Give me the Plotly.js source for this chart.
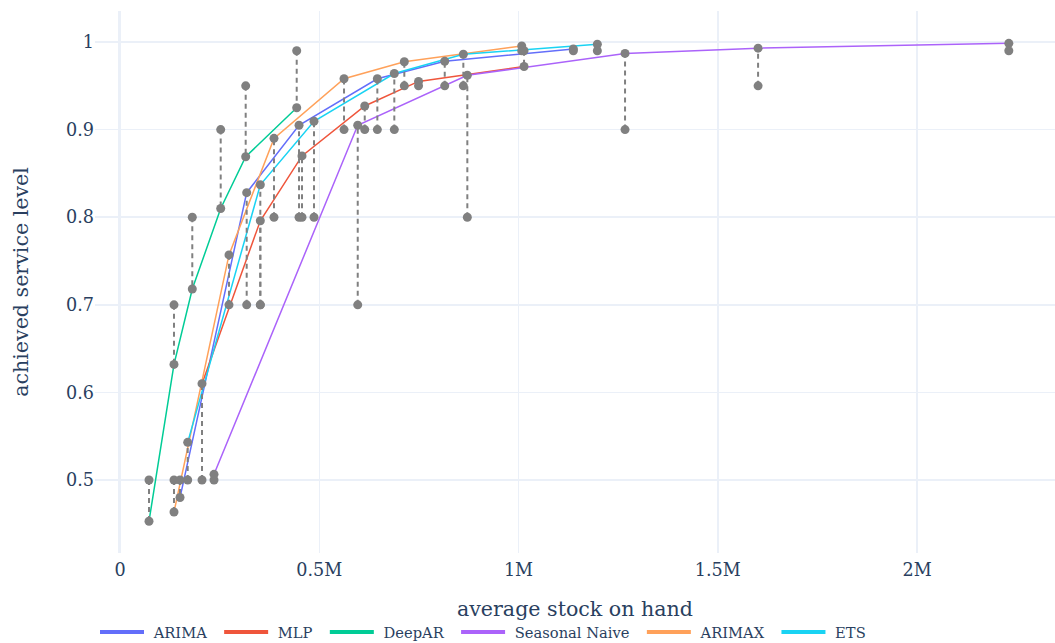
<!DOCTYPE html>
<html>
<head>
<meta charset="utf-8">
<script src="https://cdn.plot.ly/plotly-3.0.1.min.js"></script>
<style>html,body{margin:0;padding:0;background:#fff;}#chart{width:1055px;height:643px;}</style>
</head>
<body>
<div id="chart"></div>
<script>
// ---- data ----
const models = ['ARIMA', 'MLP', 'DeepAR', 'Seasonal Naive', 'ARIMAX', 'ETS'];
const targetLevels = [0.5, 0.7, 0.8, 0.9, 0.95, 0.99];

const stockARIMA = [150600, 317900, 449200, 645700, 814800, 1137500];
const levelARIMA = [0.480, 0.828, 0.905, 0.958, 0.978, 0.992];

const stockMLP = [205800, 352100, 456700, 614100, 749100, 1013800];
const levelMLP = [0.610, 0.796, 0.870, 0.927, 0.955, 0.972];

const stockDeepAR = [72800, 135500, 181400, 252700, 315400, 443400];
const levelDeepAR = [0.453, 0.632, 0.718, 0.810, 0.869, 0.925];

const stockSeasonalNaive = [235900, 596500, 871500, 1267200, 1601000, 2230100];
const levelSeasonalNaive = [0.5065, 0.905, 0.962, 0.987, 0.993, 0.9985];

const stockARIMAX = [135500, 273500, 386400, 562100, 713400, 1008000];
const levelARIMAX = [0.4635, 0.757, 0.890, 0.958, 0.9775, 0.9955];

const stockETS = [169900, 352100, 486800, 688300, 861500, 1197700];
const levelETS = [0.543, 0.837, 0.9095, 0.964, 0.986, 0.9974];

const xTickVals = [0, 500000, 1000000, 1500000, 2000000];
const xTickText = ['0', '0.5M', '1M', '1.5M', '2M'];
const yTickVals = [0.5, 0.6, 0.7, 0.8, 0.9, 1];
const yTickText = ['0.5', '0.6', '0.7', '0.8', '0.9', '1'];

// ---- build traces ----
const colors = ['#636EFA', '#EF553B', '#00CC96', '#AB63FA', '#FFA15A', '#19D3F3'];
const series = [
  [stockARIMA, levelARIMA],
  [stockMLP, levelMLP],
  [stockDeepAR, levelDeepAR],
  [stockSeasonalNaive, levelSeasonalNaive],
  [stockARIMAX, levelARIMAX],
  [stockETS, levelETS]
];

const traces = [];
// legend entries (thicker swatches, no data drawn)
models.forEach((m, k) => {
  traces.push({
    type: 'scatter', mode: 'lines', name: '\u00A0' + m + '\u2002',
    x: [null], y: [null], legendgroup: m,
    line: {color: colors[k], width: 4}, showlegend: true
  });
});
series.forEach((s, k) => {
  traces.push({
    type: 'scatter', mode: 'lines', name: models[k], legendgroup: models[k],
    x: s[0], y: s[1],
    line: {color: colors[k], width: 1.5},
    showlegend: false
  });
});
series.forEach((s, k) => {
  const xs = [], ys = [];
  s[0].forEach((v, i) => {
    xs.push(v, v, null);
    ys.push(targetLevels[i], s[1][i], null);
  });
  traces.push({
    type: 'scatter', mode: 'lines+markers', x: xs, y: ys,
    line: {color: 'grey', width: 2, dash: '5px,4px'},
    marker: {color: 'grey', size: 9},
    connectgaps: false, showlegend: false, hoverinfo: 'skip'
  });
});

const fontFam = '"DejaVu Serif", serif';
const layout = {
  width: 1055, height: 643,
  paper_bgcolor: '#fff', plot_bgcolor: '#fff',
  font: {family: fontFam, color: '#2a3f5f', size: 17.6},
  margin: {l: 95, r: 0, t: 11, b: 90, pad: 0, autoexpand: false},
  xaxis: {
    range: [-62700, 2346000],
    tickvals: xTickVals, ticktext: xTickText,
    gridcolor: '#EBF0F8', gridwidth: 1.5,
    zeroline: true, zerolinecolor: '#EBF0F8', zerolinewidth: 3,
    showline: false, ticks: '', ticklabelstandoff: 4,
    tickfont: {size: 17.6},
    title: {text: 'average stock on hand', font: {size: 20.6}, standoff: 22}
  },
  yaxis: {
    range: [0.4167, 1.0354],
    tickvals: yTickVals, ticktext: yTickText,
    gridcolor: '#EBF0F8', gridwidth: 1.5,
    zeroline: false, showline: false, ticks: '',
    tickfont: {size: 17.6},
    title: {text: 'achieved service level', font: {size: 20.6}, standoff: 31}
  },
  legend: {
    orientation: 'h', x: 0, xanchor: 'left', y: -0.116, yanchor: 'top',
    font: {size: 14.7}, itemwidth: 44, bgcolor: 'rgba(0,0,0,0)'
  },
  showlegend: true
};

Plotly.newPlot('chart', traces, layout, {displayModeBar: false, staticPlot: true});
</script>
</body>
</html>
